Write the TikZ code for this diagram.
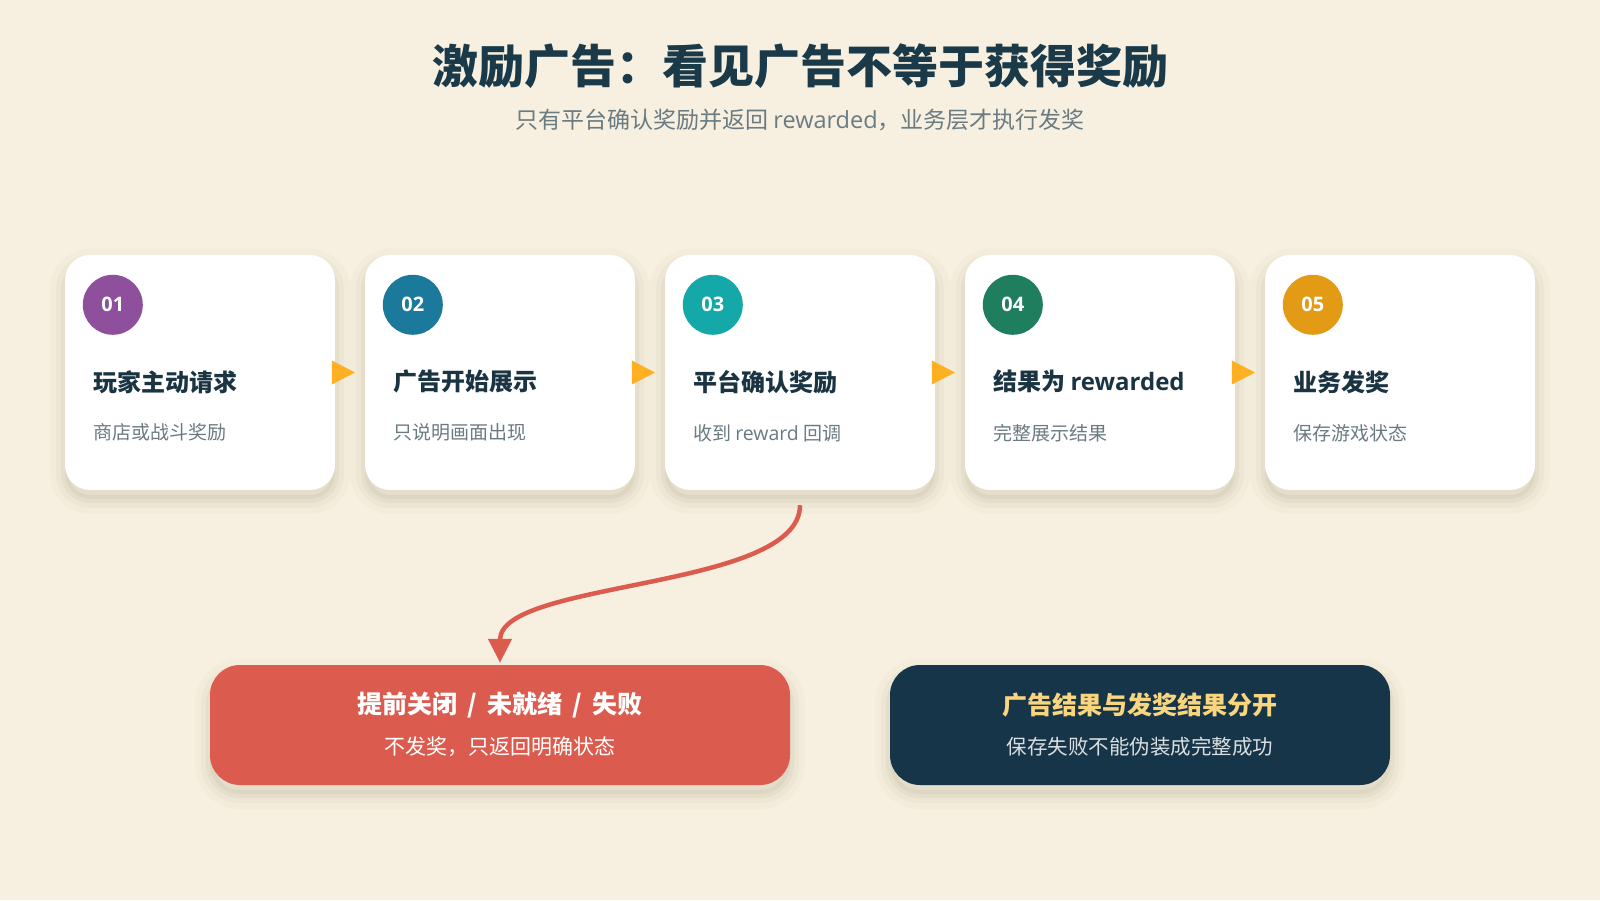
\documentclass[tikz,border=0pt]{standalone}
\usepackage{fontspec}
\setmainfont{Noto Sans CJK SC}
\newfontfamily\latinsans{Open Sans}
\usetikzlibrary{arrows.meta}

\definecolor{bgcream}{HTML}{F7F0E0}
\definecolor{shade}{HTML}{5A4A2A}
\definecolor{inkdark}{HTML}{1A3A4A}
\definecolor{inkcard}{HTML}{1B3443}
\definecolor{inkgray}{HTML}{6A7B82}
\definecolor{numpurple}{HTML}{8E4F9C}
\definecolor{numblue}{HTML}{1B7A9B}
\definecolor{numteal}{HTML}{15A8A8}
\definecolor{numgreen}{HTML}{1E7E5E}
\definecolor{numgold}{HTML}{E39A14}
\definecolor{arrowgold}{HTML}{FDB022}
\definecolor{failred}{HTML}{DB5C4E}
\definecolor{notenavy}{HTML}{173548}
\definecolor{notegold}{HTML}{F8D57E}
\definecolor{notelight}{HTML}{D9DEE0}

\begin{document}
\begin{tikzpicture}[x = 1pt, y = 1pt, % one unit = one pixel
                node distance = 300pt, % card to card, centre to centre
                > = {Triangle[length=23pt, width=24pt]}
            ]

            \tikzstyle{soft}=[preaction = {draw = shade, line width = 30pt,
            opacity = 0.025, transform canvas = {yshift = -9pt}}, preaction =
            {draw = shade, line width = 18pt, opacity = 0.035, transform
            canvas = {yshift = -9pt}}, preaction = {draw = shade, fill = shade,
            line width = 8pt, opacity = 0.05, transform canvas = {yshift =
            -9pt}}]
            \tikzstyle{card}=[soft, fill = white, rounded corners = 25pt,
            minimum width = 270pt, minimum height = 235pt]
            \tikzstyle{num}=[circle, minimum size = 60pt, inner sep = 0pt,
            text = white, font = \latinsans\bfseries\fontsize{20}{24}\selectfont]
            \tikzstyle{ctitle}=[anchor = west, inner sep = 0pt, text = inkcard,
            font = \bfseries\fontsize{24}{28}\selectfont]
            \tikzstyle{csub}=[anchor = west, inner sep = 0pt, text = inkgray,
            font = \fontsize{19}{23}\selectfont]
            \tikzstyle{flow}=[draw = arrowgold, line width = 0.4pt,
            shorten < = -3pt, shorten > = 10pt, ->]
            \tikzstyle{outcome}=[soft, rounded corners = 30pt, minimum width =
            580pt, minimum height = 120pt]
            \tikzstyle{otitle}=[inner sep = 0pt, font =
            \bfseries\fontsize{25}{29}\selectfont]
            \tikzstyle{osub}=[inner sep = 0pt, font =
            \fontsize{20.5}{24}\selectfont]

            \fill[bgcream] (0,0) rectangle (1600,900);
            \useasboundingbox (0,0) rectangle (1600,900);

            % heading
            \node[inner sep = 0pt, text = inkdark, font =
            \bfseries\fontsize{46}{52}\selectfont] (title) at (800,834)
            {激励广告：看见广告不等于获得奖励};
            \node[inner sep = 0pt, text = inkgray, font =
            \fontsize{23}{27}\selectfont] (subtitle) at (800,780)
            {只有平台确认奖励并返回 {\latinsans\fontsize{23.5}{27}\selectfont
                rewarded}，业务层才执行发奖};

            % the five steps
            \node[card] (c1) at (200,527.5) {}; \node[card] (c2) [right of=c1]
            {}; \node[card] (c3) [right of=c2] {}; \node[card] (c4) [right
                of=c3] {}; \node[card] (c5) [right of=c4] {};

            \node[num, fill = numpurple] (n1) at ([xshift=48pt,
                yshift=-50pt]c1.north west) {01};
            \node[num, fill = numblue] (n2) at ([xshift=48pt,
                yshift=-50pt]c2.north west) {02};
            \node[num, fill = numteal] (n3) at ([xshift=48pt,
                yshift=-50pt]c3.north west) {03};
            \node[num, fill = numgreen] (n4) at ([xshift=48pt,
                yshift=-50pt]c4.north west) {04};
            \node[num, fill = numgold] (n5) at ([xshift=48pt,
                yshift=-50pt]c5.north west) {05};

            \node[ctitle] (t1) at ([xshift=28pt, yshift=-127pt]c1.north west)
            {玩家主动请求};
            \node[csub] (s1) at ([xshift=28pt, yshift=-178pt]c1.north west)
            {商店或战斗奖励};
            \node[ctitle] (t2) at ([xshift=28pt, yshift=-127pt]c2.north west)
            {广告开始展示};
            \node[csub] (s2) at ([xshift=28pt, yshift=-178pt]c2.north west)
            {只说明画面出现};
            \node[ctitle] (t3) at ([xshift=28pt, yshift=-127pt]c3.north west)
            {平台确认奖励};
            \node[csub] (s3) at ([xshift=28pt, yshift=-178pt]c3.north west)
            {收到 {\latinsans\fontsize{19.5}{23}\selectfont reward} 回调};
            \node[ctitle] (t4) at ([xshift=28pt, yshift=-127pt]c4.north west)
            {结果为 {\latinsans\fontsize{24}{28}\selectfont rewarded}};
            \node[csub] (s4) at ([xshift=28pt, yshift=-178pt]c4.north west)
            {完整展示结果};
            \node[ctitle] (t5) at ([xshift=28pt, yshift=-127pt]c5.north west)
            {业务发奖};
            \node[csub] (s5) at ([xshift=28pt, yshift=-178pt]c5.north west)
            {保存游戏状态};

            \path[flow] (c1.east) -- (c2.west); \path[flow] (c2.east) --
            (c3.west); \path[flow] (c3.east) -- (c4.west); \path[flow]
            (c4.east) -- (c5.west);

            % outcomes
            \node[outcome, fill = failred] (fail) at (500,175) {};
            \node[outcome, fill = notenavy, minimum width = 500pt] (note) at
            (1140,175) {};

            \node[otitle, text = white] (failt) at ([yshift=20pt]fail.center)
            {提前关闭\hspace{10pt}/\hspace{10pt}未就绪\hspace{10pt}/\hspace{10pt}失败};
            \node[osub, text = white, font = \fontsize{21}{24}\selectfont]
            (fails) at ([yshift=-22pt]fail.center) {不发奖，只返回明确状态};
            \node[otitle, text = notegold] (notet) at ([yshift=20pt]note.center)
            {广告结果与发奖结果分开};
            \node[osub, text = notelight] (notes) at
            ([yshift=-22pt]note.center) {保存失败不能伪装成完整成功};

            \draw[failred, line width = 4.5pt, shorten < = 15pt, shorten > =
            2pt, -{Triangle[length=24pt, width=23pt]}] (c3.south) .. controls
            ([yshift=-100pt]c3.south) and ([yshift=85pt]fail.north) ..
            (fail.north);\end{tikzpicture}
\end{document}
